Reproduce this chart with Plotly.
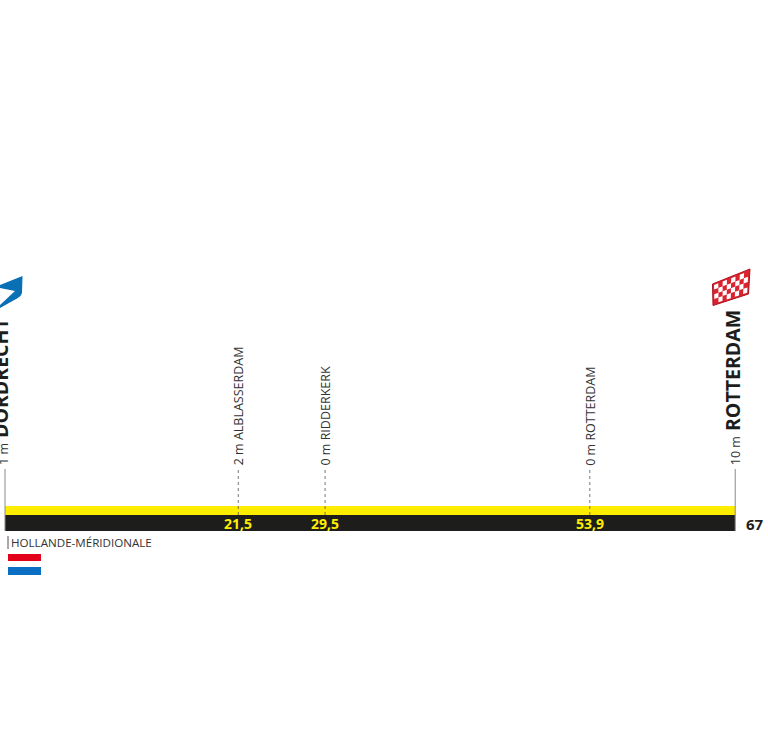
import plotly.graph_objects as go

W, H = 768, 750
X0, KM = 5.0, 10.85  # left pixel of km 0, pixels per km
BASE = 515  # pixel row of profile baseline

# Data
mid_names = ["ALBLASSERDAM", "RIDDERKERK", "ROTTERDAM"]
mid_km = [21.5, 29.5, 53.9]
mid_alt = [2, 0, 0]
mid_km_labels = ["21,5", "29,5", "53,9"]
start_name = "DORDRECHT"
start_alt = 1
finish_name = "ROTTERDAM"
finish_alt = 10
finish_km = 67.3
profile_km = [0, 21.5, 29.5, 53.9, 67.3]
profile_h = [9, 9, 9, 9, 9]
total_label = "67"
region = "HOLLANDE-MÉRIDIONALE"

FONT = "Open Sans"
DARK = "#1d1d1b"
YEL = "#ffed00"
GREY = "#8a8a8a"


def poly(points, fill, line=None, lw=0):
    d = "M " + " L ".join(f"{p[0] / W:.5f} {1 - p[1] / H:.5f}" for p in points) + " Z"
    return dict(type="path", xref="paper", yref="paper", path=d, fillcolor=fill,
                line=dict(color=line or fill, width=lw), layer="above")


fig = go.Figure()

# black km band
fig.add_trace(go.Scatter(x=[0, finish_km, finish_km, 0, 0], y=[0, 0, -16, -16, 0],
                         mode="lines", fill="toself", fillcolor=DARK, line=dict(width=0),
                         hoverinfo="skip"))
# yellow profile
fig.add_trace(go.Scatter(x=profile_km, y=profile_h, mode="lines", fill="tozeroy",
                         fillcolor=YEL, line=dict(width=0, color=YEL), hoverinfo="skip"))
# end stems
fig.add_trace(go.Scatter(x=[0, 0], y=[-16, 46], mode="lines", line=dict(color=GREY, width=1), hoverinfo="skip"))
fig.add_trace(go.Scatter(x=[finish_km, finish_km], y=[-16, 46], mode="lines", line=dict(color=GREY, width=1), hoverinfo="skip"))
# dashed stems
for k in mid_km:
    fig.add_trace(go.Scatter(x=[k, k], y=[0, 46], mode="lines",
                             line=dict(color="#555555", width=0.8, dash="3px,3px"), hoverinfo="skip"))

ann = []


def vtext(km, text, size, color, xshift, y=47.5):
    ann.append(dict(x=km, y=y, xref="x", yref="y", text=text, textangle=-90, showarrow=False,
                    xanchor="center", yanchor="bottom", xshift=xshift,
                    font=dict(family=FONT, size=size, color=color)))


vtext(0, f"<span style='font-size:12.5px;font-weight:400;color:#333333'>{start_alt} m</span> <b>{start_name}</b>",
      19.5, DARK, -5)
vtext(finish_km, f"<span style='font-size:12.5px;font-weight:400;color:#333333'>{finish_alt} m</span> <b>{finish_name}</b>",
      19.5, DARK, -3)
for n, k, a in zip(mid_names, mid_km, mid_alt):
    vtext(k, f"{a} m {n}", 12.5, "#333333", 0)

for k, t in zip(mid_km, mid_km_labels):
    ann.append(dict(x=k, y=-8.5, xref="x", yref="y", text=f"<b>{t}</b>", showarrow=False,
                    font=dict(family=FONT, size=14, color=YEL)))
ann.append(dict(x=finish_km, y=-8.5, xref="x", yref="y", text=f"<b>{total_label}</b>", showarrow=False,
                xanchor="left", xshift=9, font=dict(family=FONT, size=15, color=DARK)))
ann.append(dict(x=11 / W, y=1 - 542 / H, xref="paper", yref="paper", text=region, showarrow=False,
                xanchor="left", yanchor="middle", xshift=-2, font=dict(family=FONT, size=11.6, color="#333333")))

shapes = [
    dict(type="line", xref="paper", yref="paper", x0=8 / W, x1=8 / W, y0=1 - 536 / H, y1=1 - 549 / H,
         line=dict(color="#555555", width=1)),
    poly([(8, 554), (41, 554), (41, 561), (8, 561)], "#e2001a"),
    poly([(8, 567), (41, 567), (41, 575), (8, 575)], "#0a6fc2"),
    poly([(0, 285), (22.5, 276), (22, 293), (20.5, 296), (17, 298.5), (0, 308)], "#0a70b5"),
    poly([(0, 288), (15, 291), (0, 305)], "#ffffff"),
]

# finish flag: red parallelogram with white checks
A, B, C, D = (712.5, 284), (750, 269), (748.5, 294), (713, 305.5)
shapes.append(poly([A, B, C, D], "#d9232e", "#b01020", 1))


def pt(u, v):
    top = (A[0] + (B[0] - A[0]) * u, A[1] + (B[1] - A[1]) * u)
    bot = (D[0] + (C[0] - D[0]) * u, D[1] + (C[1] - D[1]) * u)
    return (top[0] + (bot[0] - top[0]) * v, top[1] + (bot[1] - top[1]) * v)


n, m = 8, 4
for i in range(n):
    for j in range(m):
        if (i + j) % 2 == 0:
            u0, u1 = 0.04 + 0.92 * i / n, 0.04 + 0.92 * (i + 1) / n
            v0, v1 = 0.07 + 0.86 * j / m, 0.07 + 0.86 * (j + 1) / m
            shapes.append(poly([pt(u0, v0), pt(u1, v0), pt(u1, v1), pt(u0, v1)], "#ffffff"))

fig.update_layout(
    width=W, height=H, margin=dict(l=0, r=0, t=0, b=0), showlegend=False,
    paper_bgcolor="white", plot_bgcolor="white",
    xaxis=dict(range=[-X0 / KM, (W - X0) / KM], visible=False, fixedrange=True),
    yaxis=dict(range=[BASE - H, BASE], visible=False, fixedrange=True),
    annotations=ann, shapes=shapes,
)
fig.write_html("out.html", config=dict(displayModeBar=False),
               post_script="document.body.style.margin='0';document.body.style.overflow='hidden';")
